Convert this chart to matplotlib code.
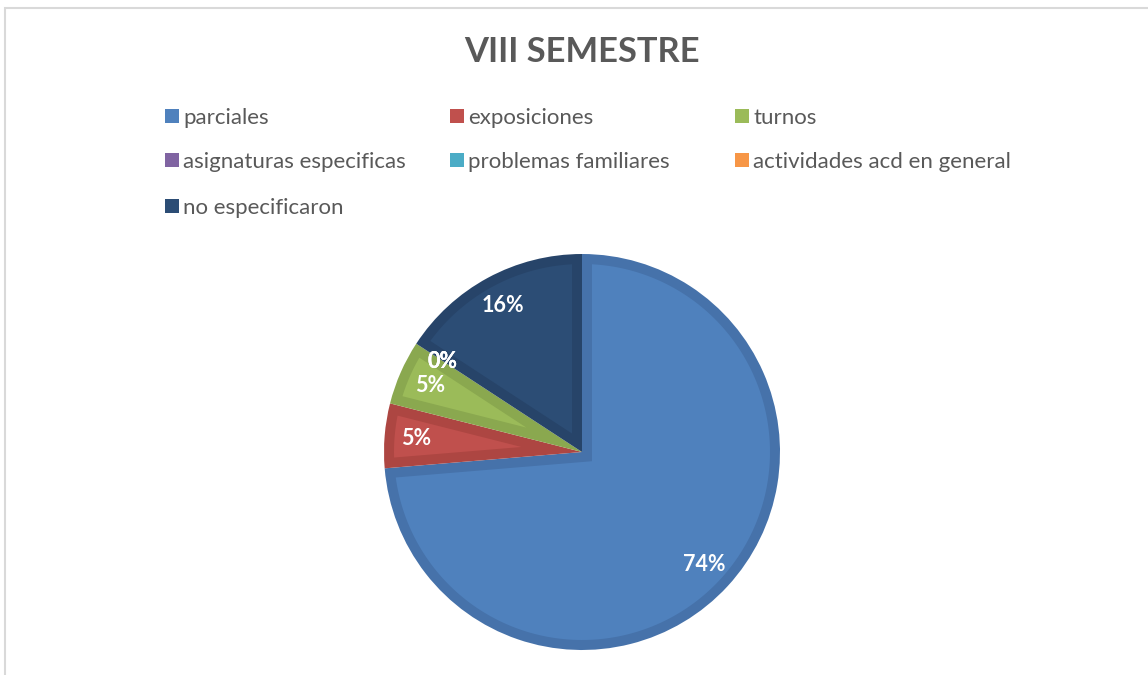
import matplotlib
matplotlib.use("Agg")
import numpy as np
import matplotlib.pyplot as plt
from matplotlib.patches import Rectangle, Polygon

plt.rcParams['font.family'] = ['Lato', 'DejaVu Sans']

title = "VIII SEMESTRE"
categories = ["parciales", "exposiciones", "turnos", "asignaturas especificas",
              "problemas familiares", "actividades acd en general", "no especificaron"]
values = [14, 1, 1, 0, 0, 0, 3]
fill_colors = ["#4F81BD", "#C0504D", "#9BBB59", "#8064A2", "#4BACC6", "#F79646", "#2C4D75"]
edge_colors = ["#4672AA", "#AD4642", "#8AA84F", "#725A91", "#4399B0", "#DE8640", "#274469"]

W, H = 1148, 675
fig = plt.figure(figsize=(W / 100, H / 100), dpi=100)

# chart frame
fig.patches.append(Rectangle((5 / W, -0.1), 1.2, 1 - 8 / H + 0.1, transform=fig.transFigure,
                             fill=False, edgecolor="#D9D9D9", linewidth=1.5))

cx, cy, r = 582, 452, 198
ax = fig.add_axes([(cx - r) / W, (H - cy - r) / H, 2 * r / W, 2 * r / H])
wedges, texts, autotexts = ax.pie(values, colors=edge_colors, startangle=90, counterclock=False,
                                  autopct="%.0f%%", pctdistance=0.84, radius=1,
                                  wedgeprops=dict(linewidth=0),
                                  textprops=dict(color="white", fontsize=15.5, fontweight="bold"))

# lighter inner area of each slice (inset by a band)
band = 10 / r
rho = 1 - band
for w, fc in zip(wedges, fill_colors):
    t1, t2 = w.theta1, w.theta2
    span = t2 - t1
    if span <= 0.5:
        continue
    delta = np.degrees(np.arcsin(band / rho))
    mid = np.radians((t1 + t2) / 2)
    apex_d = band / np.sin(np.radians(span / 2))
    apex = (apex_d * np.cos(mid), apex_d * np.sin(mid))
    th = np.radians(np.linspace(t1 + delta, t2 - delta, 200))
    pts = [apex] + list(zip(rho * np.cos(th), rho * np.sin(th)))
    ax.add_patch(Polygon(pts, closed=True, facecolor=fc, edgecolor="none", zorder=1.5))
for t in autotexts:
    t.set_zorder(3)

ax.set_xlim(-1, 1)
ax.set_ylim(-1, 1)
ax.set_aspect("equal")
ax.axis("off")

fig.text(cx / W, 1 - 52 / H, title, ha="center", va="center", fontsize=24.8,
         fontweight="bold", color="#595959")

# legend
col_x = [165, 450, 735]
row_y = [116, 160, 206]
for i, (lab, col) in enumerate(zip(categories, fill_colors)):
    x = col_x[i % 3]
    y = row_y[i // 3]
    fig.patches.append(Rectangle((x / W, 1 - (y + 7) / H), 14 / W, 14 / H,
                                 transform=fig.transFigure, facecolor=col, edgecolor="none"))
    fig.text((x + 18) / W, 1 - (y + 2) / H, lab, ha="left", va="center", fontsize=16,
             color="#595959")

fig.savefig("out.png", dpi=100)
